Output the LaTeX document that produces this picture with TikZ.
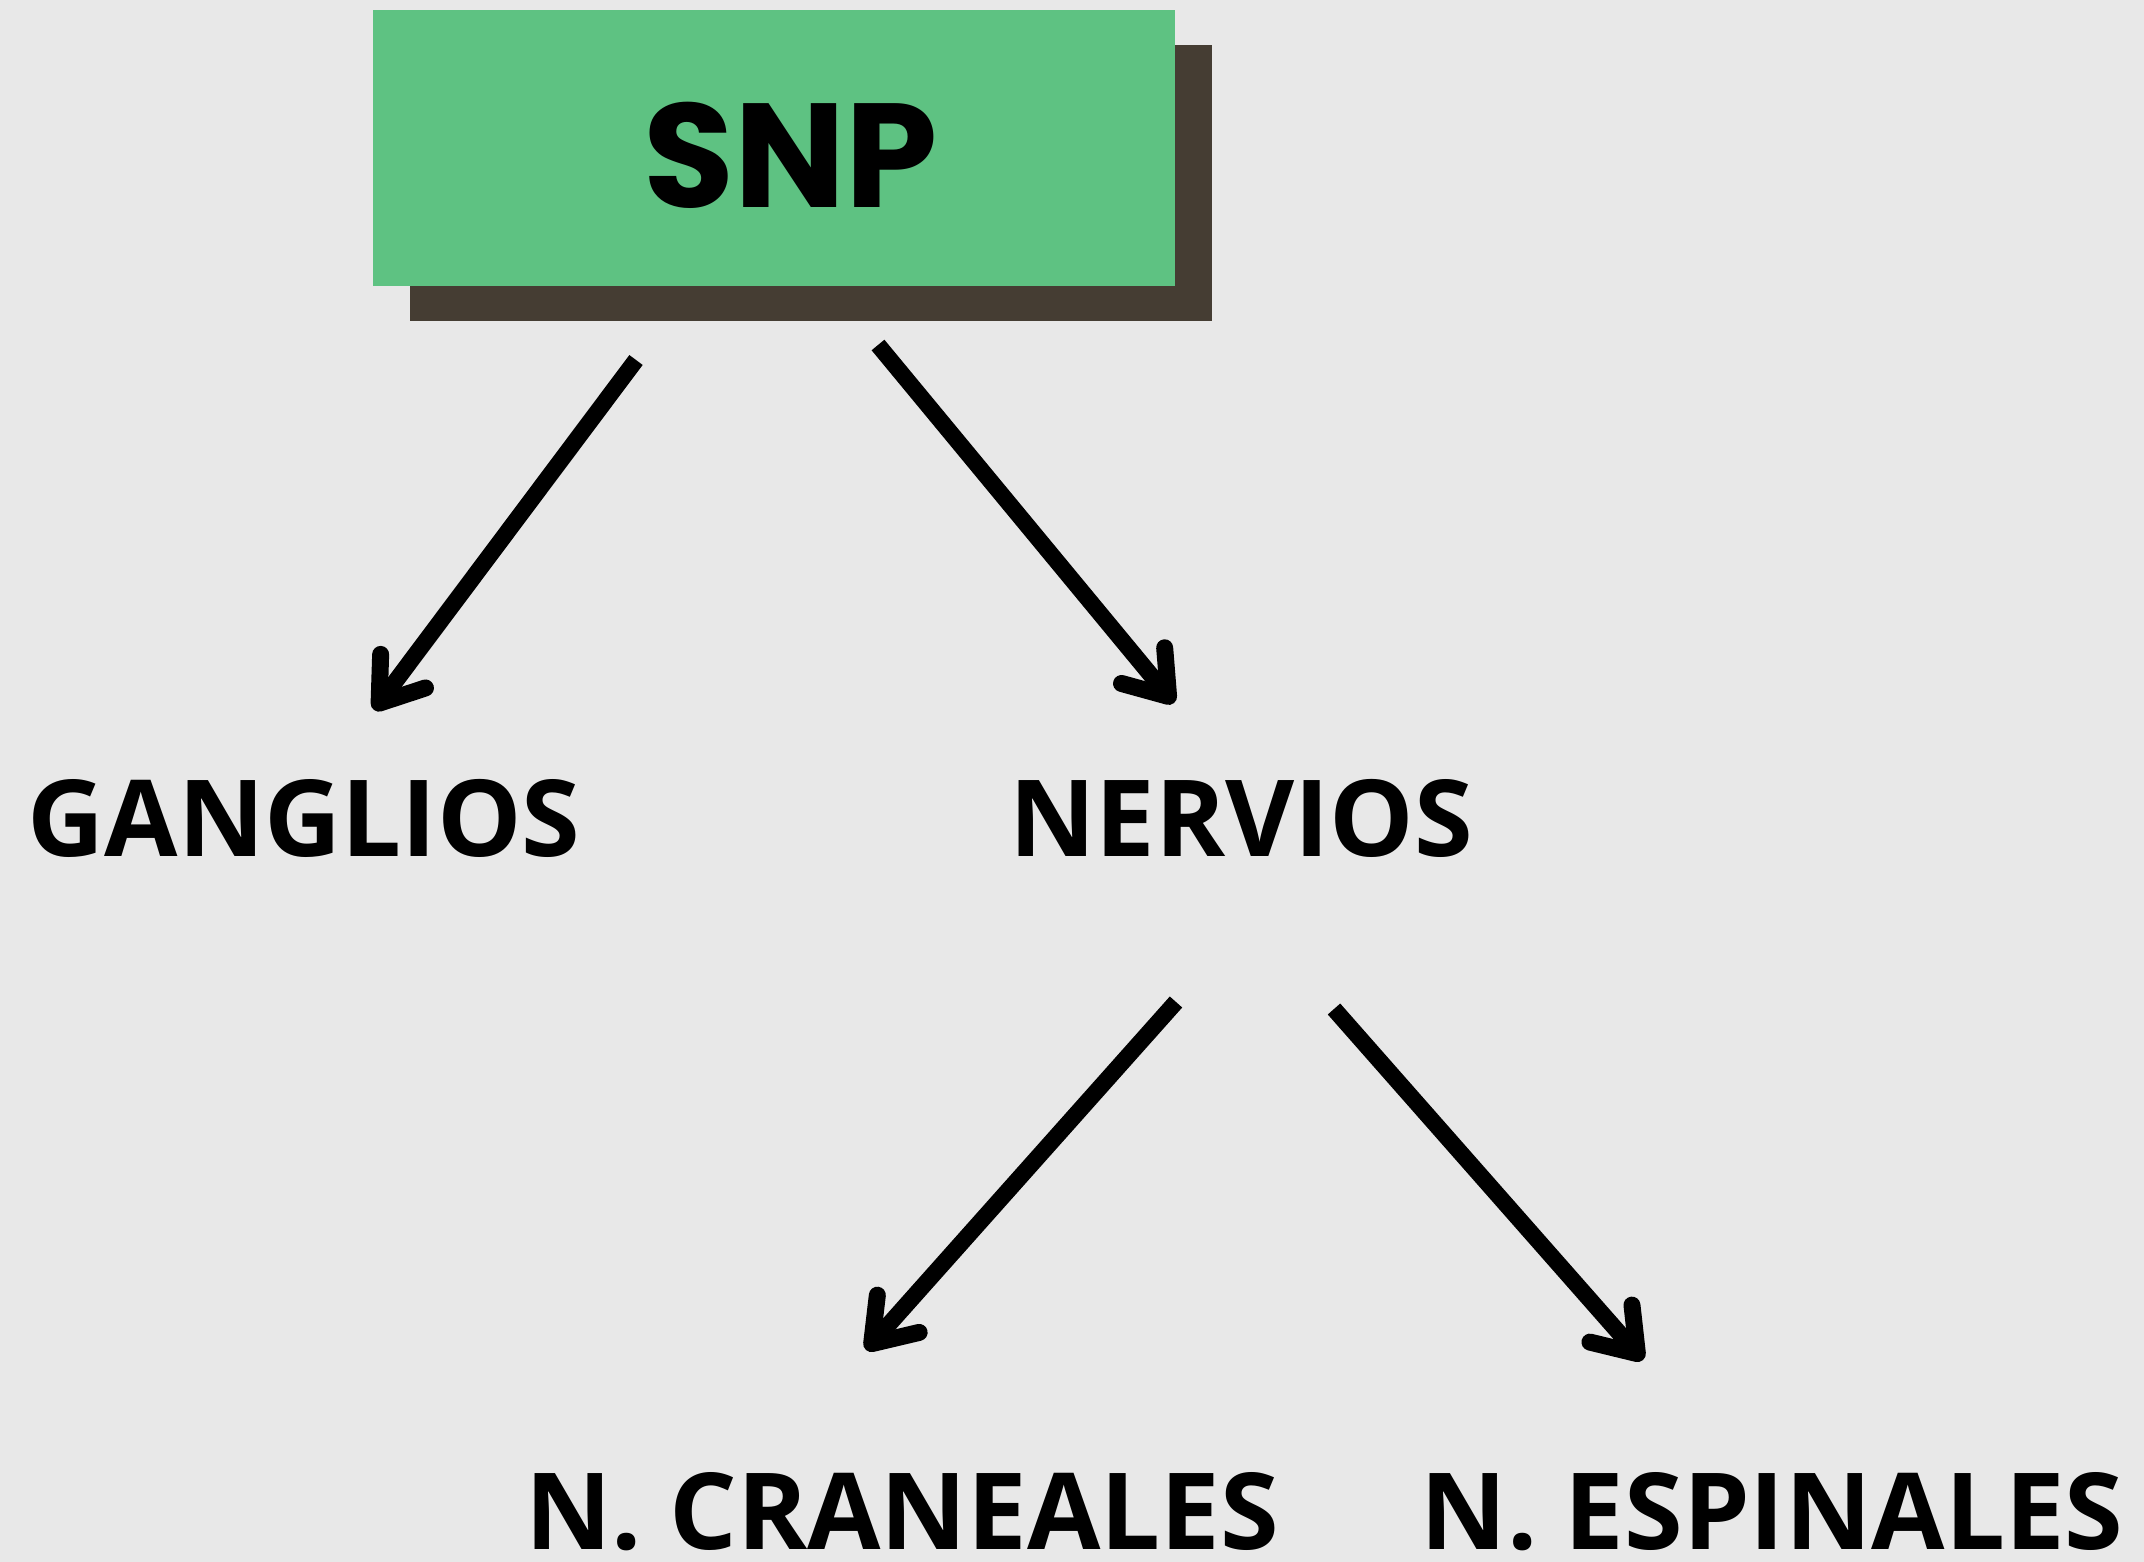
\documentclass[tikz,border=0pt]{standalone}
\usepackage{fontspec}
\usetikzlibrary{arrows.meta}
\newfontfamily\snpfont{Poppins}
\newfontfamily\lblfont{Open Sans}
\definecolor{bgc}{HTML}{E8E8E8}
\definecolor{snpgreen}{HTML}{5EC282}
\definecolor{shadowc}{HTML}{453D33}
\begin{document}
\begin{tikzpicture}[x=0.5pt,y=-0.5pt,
  lbl/.style={font=\lblfont\bfseries\fontsize{53.2}{60}\selectfont, anchor=base, inner sep=0pt, text depth=0pt},
  conn/.style={line width=8.3pt, -{Straight Barb[length=20pt,width=28pt,line width=8.5pt,round]}},
  boxstyle/.style={minimum width=401pt, minimum height=138pt, inner sep=0pt, anchor=north west}]
\useasboundingbox (0,0) rectangle (2144,1562);
\fill[bgc] (0,0) rectangle (2144,1562);
\node[boxstyle, fill=shadowc] (shadow) at (410,45) {};
\node[boxstyle, fill=snpgreen] (snpbox) at (373,10) {};
\node[font=\snpfont\bfseries\fontsize{74}{80}\selectfont, anchor=base, inner sep=0pt] (snp) at (791,208) {SNP};
\node[lbl] (ganglios) at (304,856) {GANGLIOS};
\node[lbl] (nervios) at (1241,856) {NERVIOS};
\node[lbl] (craneales) at (902,1549) {N. CRANEALES};
\node[lbl] (espinales) at (1772,1549) {N. ESPINALES};
\coordinate (a1s) at (636,360); \coordinate (a1e) at (374,710);
\coordinate (a2s) at (878,345); \coordinate (a2e) at (1174,703);
\coordinate (a3s) at (1176,1002); \coordinate (a3e) at (866,1350);
\coordinate (a4s) at (1334,1009); \coordinate (a4e) at (1643,1360);
\draw[conn] (a1s) -- (a1e);
\draw[conn] (a2s) -- (a2e);
\draw[conn] (a3s) -- (a3e);
\draw[conn] (a4s) -- (a4e);
\end{tikzpicture}
\end{document}
